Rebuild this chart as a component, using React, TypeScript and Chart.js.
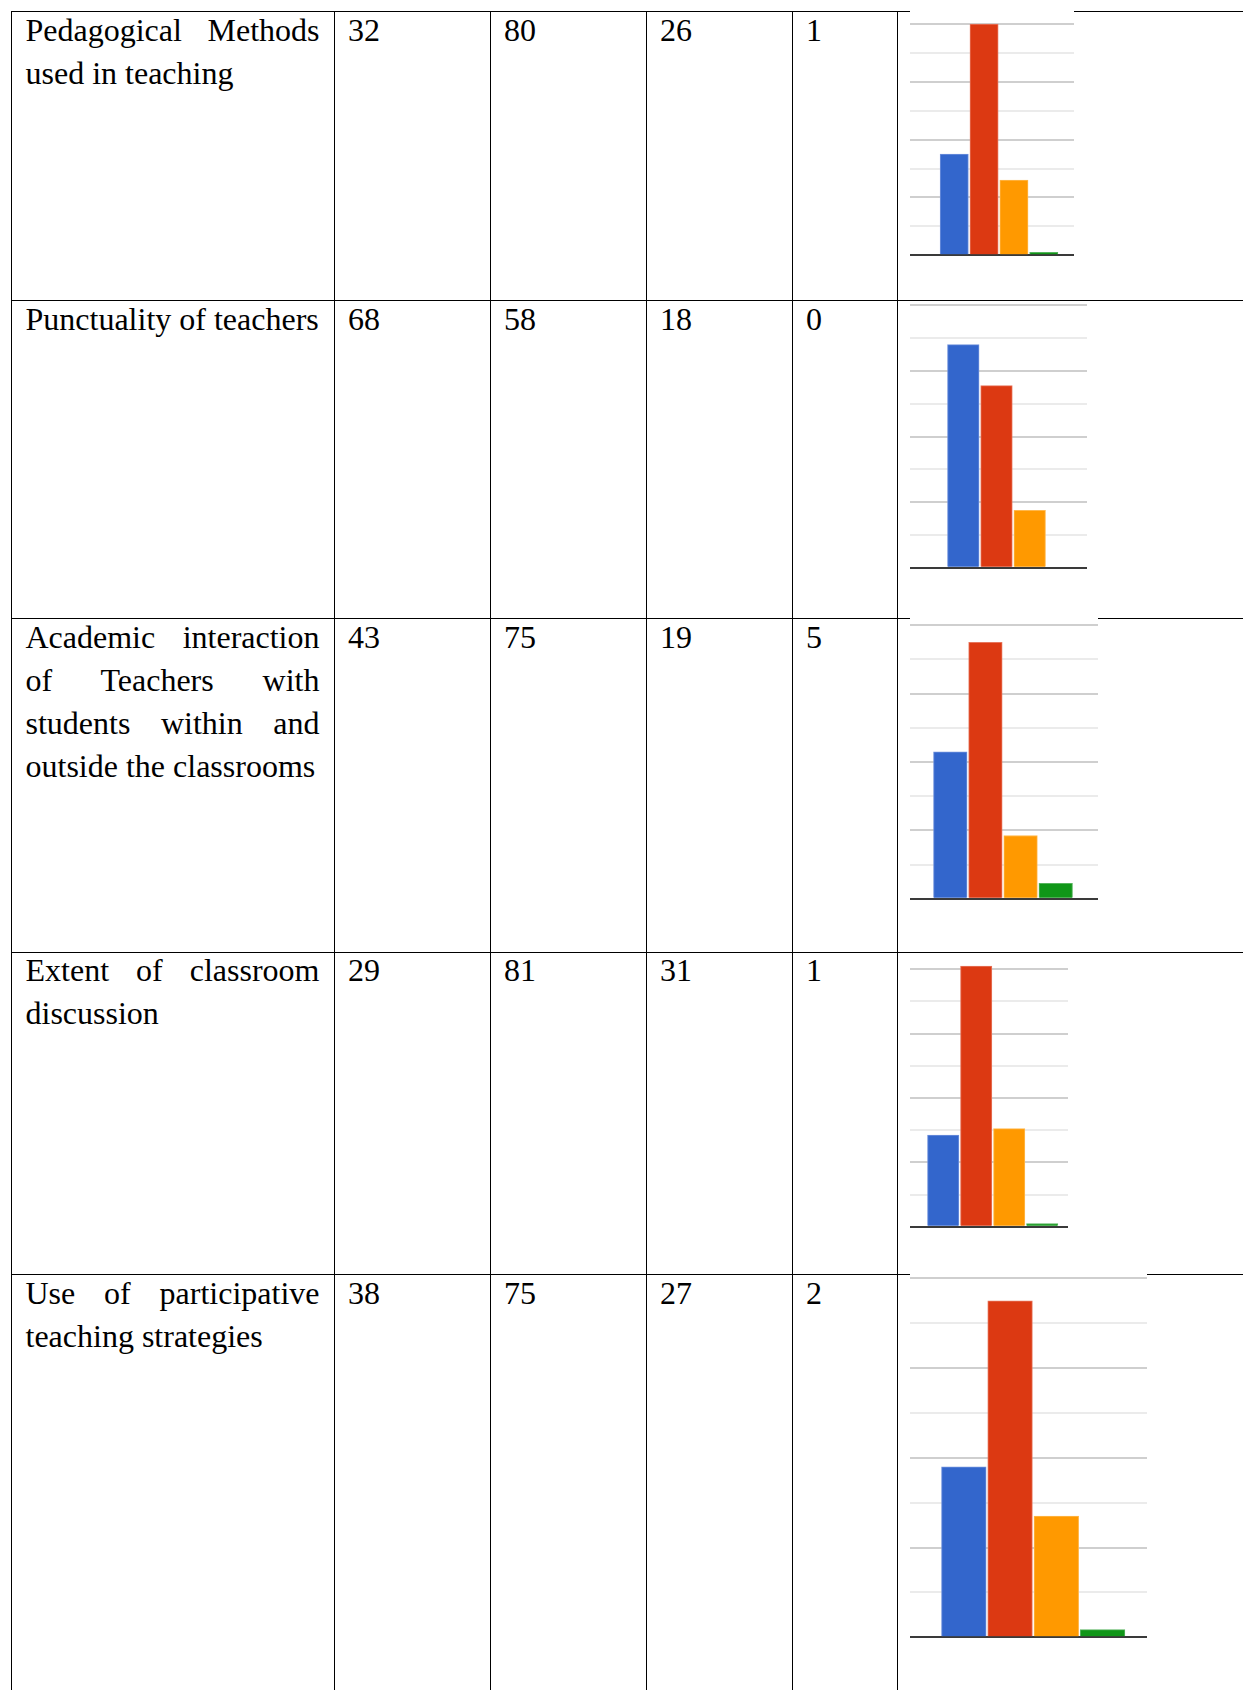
import React, { useEffect, useRef } from "react";
import { Chart, registerables } from "chart.js";

Chart.register(...registerables);

// ---------- table data ----------
const criteria = [
  "Pedagogical Methods used in teaching",
  "Punctuality of teachers",
  "Academic interaction of Teachers with students within and outside the classrooms",
  "Extent of classroom discussion",
  "Use of participative teaching strategies",
];
const col1Counts = [32, 68, 43, 29, 38];
const col2Counts = [80, 58, 75, 81, 75];
const col3Counts = [26, 18, 19, 31, 27];
const col4Counts = [1, 0, 5, 1, 2];

// ---------- bar heights as drawn in each row's mini chart ----------
const barCategories = [0, 1, 2, 3];
const pedagogicalBars = [35, 80, 26, 1];
const punctualityBars = [68, 55.5, 17.5, 0];
const interactionBars = [43, 75, 18.5, 4.5];
const discussionBars = [28.5, 81, 30.5, 1];
const participativeBars = [38, 75, 27, 1.7];
const chartSeries = [pedagogicalBars, punctualityBars, interactionBars, discussionBars, participativeBars];

// y axis of every mini chart
const yMin = 0;
const yMax = 80;
const yStep = 10;

// ---------- styles / layout ----------
const barColors = ["#3366cc", "#dc3912", "#ff9900", "#109618"];
const barEdgeColors = ["#6f91dc", "#e7765d", "#ffb84d", "#55b45c"];
const rowLines = [11, 300, 618, 951.5, 1274];
const colLines = [11, 334, 490, 646, 792, 897];
const PAGE_W = 1243;
const PAGE_H = 1690;

const chartLayouts = [
  { left: 910, right: 1074, top: 24, base: 255.3, canvasTop: 5, canvasBottom: 272, firstBar: 939.3, barW: 29.85 },
  { left: 910, right: 1087, top: 305.3, base: 567.7, canvasTop: 302, canvasBottom: 600, firstBar: 946.7, barW: 33.2 },
  { left: 910, right: 1098, top: 625.3, base: 898.7, canvasTop: 613, canvasBottom: 925, firstBar: 932.7, barW: 35.15 },
  { left: 910, right: 1068, top: 969.3, base: 1226.7, canvasTop: 954, canvasBottom: 1245, firstBar: 926.7, barW: 33 },
  { left: 910, right: 1147, top: 1278.3, base: 1637.3, canvasTop: 1269, canvasBottom: 1665, firstBar: 940.7, barW: 46.25 },
];

type Layout = (typeof chartLayouts)[number];

function MiniChart({ values, layout }: { values: number[]; layout: Layout }) {
  const ref = useRef<HTMLCanvasElement | null>(null);
  const width = Math.round(layout.right - layout.left);
  const height = Math.round(layout.canvasBottom - layout.canvasTop);

  useEffect(() => {
    const canvas = ref.current;
    if (!canvas) return;
    const n = barCategories.length;
    const xMin = -0.5 - (layout.firstBar - layout.left) / layout.barW;
    const xMax = n - 0.5 + (layout.right - (layout.firstBar + n * layout.barW)) / layout.barW;
    const chart = new Chart(canvas, {
      type: "bar",
      data: {
        datasets: [
          {
            data: barCategories.map((c, i) => ({ x: c, y: values[i] })),
            backgroundColor: barColors,
            borderColor: barEdgeColors,
            borderWidth: 1,
            borderSkipped: "bottom",
            barThickness: layout.barW - 1.6,
            clip: false as any,
          },
        ],
      },
      options: {
        animation: false,
        responsive: false,
        devicePixelRatio: 1,
        layout: {
          padding: {
            top: layout.top - layout.canvasTop,
            bottom: layout.canvasBottom - layout.base,
            left: 0,
            right: 0,
          },
        },
        plugins: { legend: { display: false }, tooltip: { enabled: false } },
        scales: {
          x: {
            type: "linear",
            min: xMin,
            max: xMax,
            offset: false,
            display: false,
            grid: { offset: false },
            ticks: { stepSize: 1, includeBounds: false } as any,
          },
          y: {
            type: "linear",
            min: yMin,
            max: yMax,
            ticks: { stepSize: yStep, display: false },
            border: { display: false },
            grid: {
              drawTicks: false,
              color: (ctx: any) =>
                ctx.tick.value === 0 ? "#3a3a3a" : ctx.tick.value % 20 === 0 ? "#cfcfcf" : "#ebebeb",
              lineWidth: 2,
            },
          },
        },
      },
    });
    return () => chart.destroy();
  }, [values, layout]);

  return (
    <canvas
      ref={ref}
      width={width}
      height={height}
      style={{
        position: "absolute",
        left: layout.left,
        top: layout.canvasTop,
        width,
        height,
        background: "#ffffff",
        zIndex: 2,
      }}
    />
  );
}

const textStyle: React.CSSProperties = {
  position: "absolute",
  fontFamily: '"Liberation Serif", "Times New Roman", serif',
  fontSize: 32,
  lineHeight: "43px",
  color: "#000",
  margin: 0,
};

export default function App() {
  const counts = [col1Counts, col2Counts, col3Counts, col4Counts];
  const rowTops = rowLines;
  return (
    <div
      style={{
        position: "absolute",
        left: 0,
        top: 0,
        width: PAGE_W,
        height: PAGE_H,
        overflow: "hidden",
        background: "#fff",
      }}
    >
      {rowLines.map((y, i) => (
        <div
          key={"h" + i}
          style={{ position: "absolute", left: 11, top: y, width: PAGE_W - 11, height: 1, background: "#000" }}
        />
      ))}
      {colLines.map((x, i) => (
        <div
          key={"v" + i}
          style={{ position: "absolute", left: x, top: 11, width: 1, height: PAGE_H - 11, background: "#000" }}
        />
      ))}
      {criteria.map((c, r) => (
        <div
          key={"c" + r}
          style={{ ...textStyle, left: 25.5, top: rowTops[r] - 2.5, width: 294, textAlign: "justify" }}
        >
          {c}
        </div>
      ))}
      {counts.map((col, ci) =>
        col.map((v, r) => (
          <div key={"n" + ci + "-" + r} style={{ ...textStyle, left: colLines[ci + 1] + 14, top: rowTops[r] - 2.5 }}>
            {String(v)}
          </div>
        ))
      )}
      {chartSeries.map((vals, r) => (
        <MiniChart key={"chart" + r} values={vals} layout={chartLayouts[r]} />
      ))}
    </div>
  );
}
